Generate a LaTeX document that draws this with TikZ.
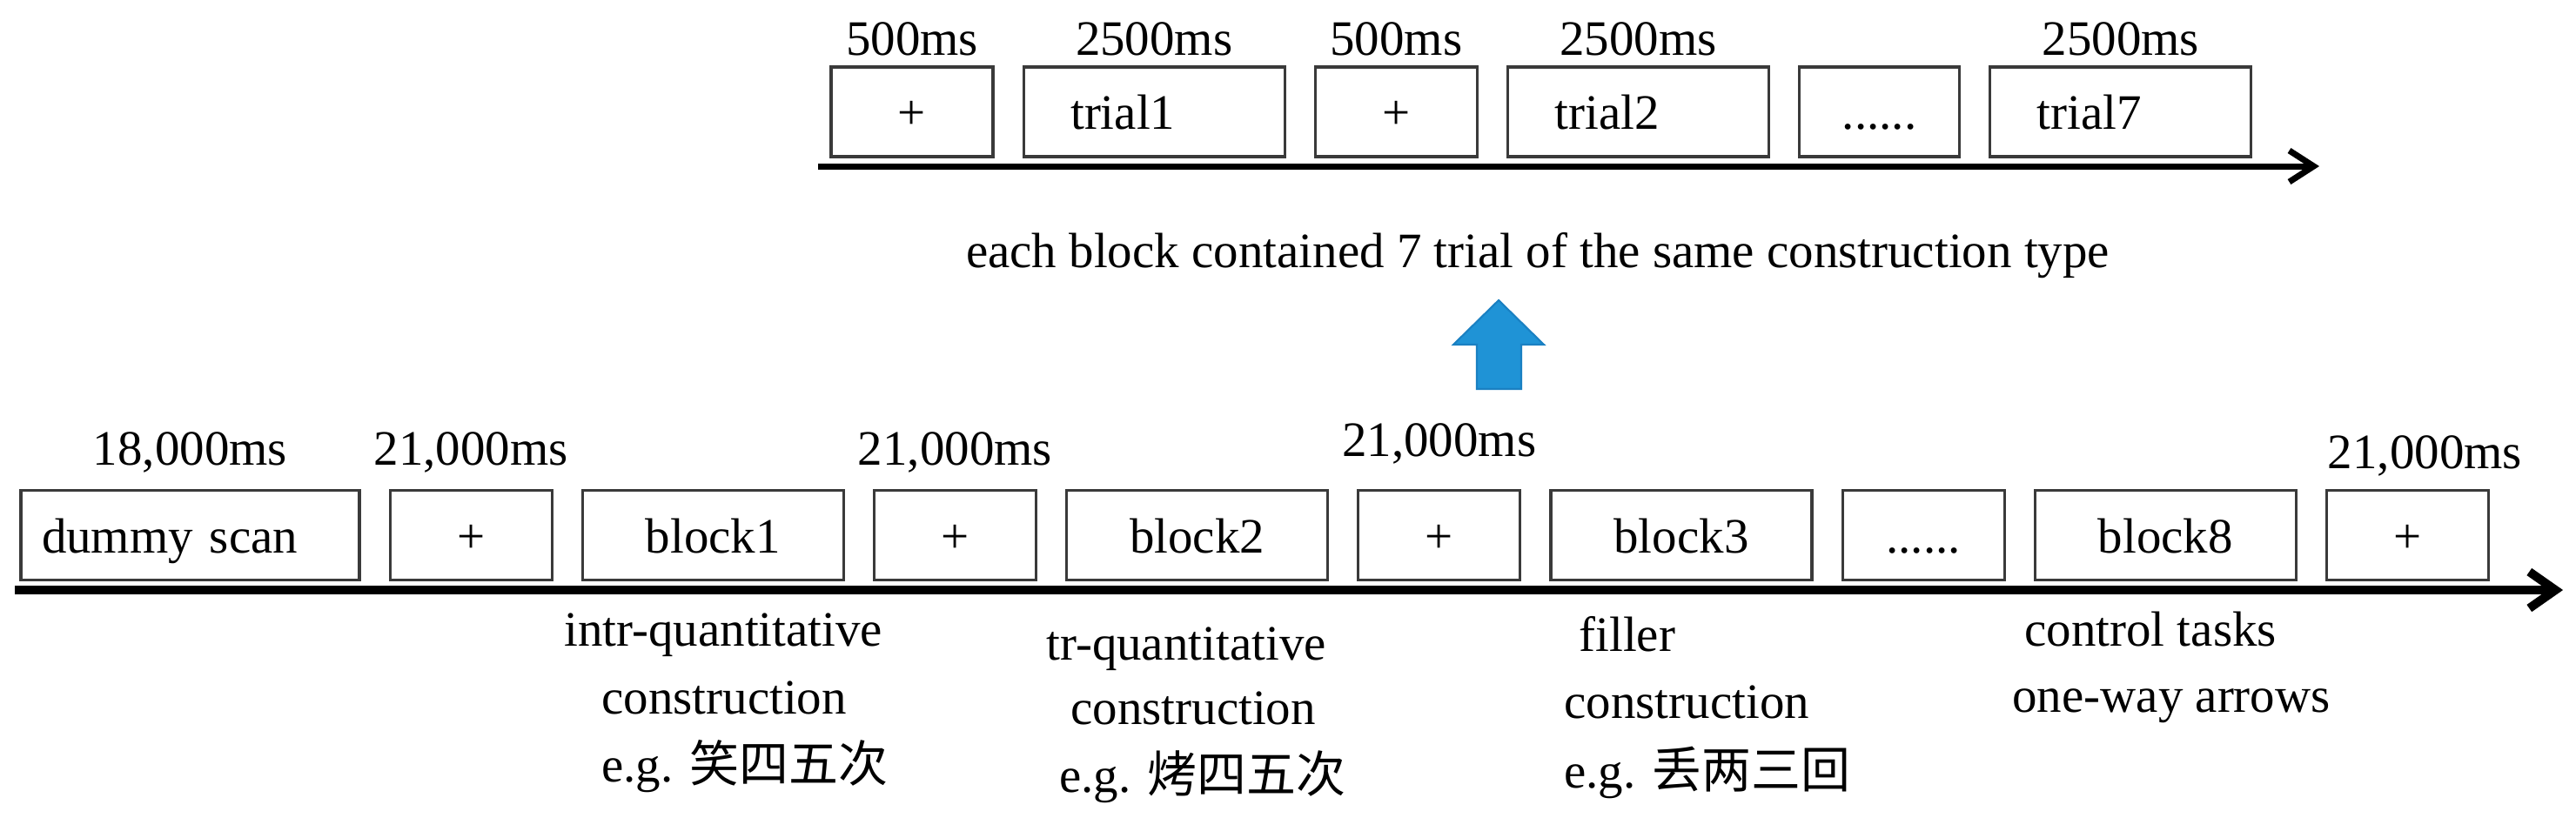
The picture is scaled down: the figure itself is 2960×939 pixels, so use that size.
\documentclass[tikz,border=0pt]{standalone}
\usepackage{fontspec}
\setmainfont{Liberation Serif}
\newfontfamily\cjk{Noto Sans CJK SC}
\usetikzlibrary{positioning,arrows.meta}
\definecolor{BoxEdge}{HTML}{3A3A3A}
\definecolor{ArrowBlue}{HTML}{1F93D6}
\definecolor{ArrowEdge}{HTML}{1A80C2}

\begin{document}
\begin{tikzpicture}[
    x=0.1mm, y=-0.1mm,
    node distance=3.2mm,
    every node/.style={font=\fontsize{16.2pt}{21pt}\selectfont},
    box/.style={draw=BoxEdge, line width=0.9pt, minimum height=10.3mm, inner sep=0pt, text height=4mm, text depth=0pt},
    plusbox/.style={box, minimum width=18.6mm},
    blockbox/.style={box, minimum width=30mm},
    trialbox/.style={box, text width=19.2mm, inner xsep=5.4mm, align=left},
    timeline/.style={line width=2.85pt, -{Straight Barb[length=3mm,width=4.2mm]}},
    subline/.style={line width=2pt, -{Straight Barb[length=2.8mm,width=3.6mm]}}
 ]
\useasboundingbox (0,0) rectangle (2960,939);

% block sequence
\node[box, text width=34.1mm, inner xsep=2.4mm, align=left] (dummy) at (218.5,615) {dummy scan};
\node[plusbox, right=of dummy] (fix1) {+};
\node[blockbox, right=of fix1] (block1) {block1};
\node[plusbox, right=of block1] (fix2) {+};
\node[blockbox, right=of fix2] (block2) {block2};
\node[plusbox, right=of block2] (fix3) {+};
\node[blockbox, right=of fix3] (block3) {block3};
\node[plusbox, right=of block3] (more) {......};
\node[blockbox, right=of more] (block8) {block8};
\node[plusbox, right=of block8] (fix4) {+};

\node[above=2.7mm of dummy, anchor=base] (tDummy) {18,000ms};
\node[above=2.7mm of fix1, anchor=base] (tFix1) {21,000ms};
\node[above=2.7mm of fix2, anchor=base] (tFix2) {21,000ms};
\node[above=3.7mm of fix3, anchor=base] (tFix3) {21,000ms};
\node[above=2.3mm of fix4, anchor=base, xshift=2mm] (tFix4) {21,000ms};

\coordinate (blockL) at (17,678);
\coordinate (blockR) at (2945,678);
\draw[timeline] (blockL) -- (blockR);

% construction types
\node[anchor=base west] (intrA) at (636,742) {intr-quantitative};
\node[anchor=base west] (intrB) at (679,820) {construction};
\node[anchor=base west] (intrC) at (679,898) {e.g. {\cjk 笑四五次}};
\node[anchor=base west] (trA) at (1190,758) {tr-quantitative};
\node[anchor=base west] (trB) at (1218,832) {construction};
\node[anchor=base west] (trC) at (1205,910) {e.g. {\cjk 烤四五次}};
\node[anchor=base west] (fillA) at (1802,748) {filler};
\node[anchor=base west] (fillB) at (1785,825) {construction};
\node[anchor=base west] (fillC) at (1785,905) {e.g. {\cjk 丢两三回}};
\node[anchor=base west] (ctrlA) at (2314,742) {control tasks};
\node[anchor=base west] (ctrlB) at (2300,818) {one-way arrows};

% trial sequence
\node[plusbox] (tfix1) at (1048,128.5) {+};
\node[trialbox, right=of tfix1] (trial1) {trial1};
\node[plusbox, right=of trial1] (tfix2) {+};
\node[trialbox, right=of tfix2] (trial2) {trial2};
\node[plusbox, minimum width=18.4mm, right=of trial2] (tmore) {......};
\node[trialbox, right=of tmore] (trial7) {trial7};

\node[above=1.2mm of tfix1, anchor=base] (tTfix1) {500ms};
\node[above=1.2mm of trial1, anchor=base] (tTrial1) {2500ms};
\node[above=1.2mm of tfix2, anchor=base] (tTfix2) {500ms};
\node[above=1.2mm of trial2, anchor=base] (tTrial2) {2500ms};
\node[above=1.2mm of trial7, anchor=base] (tTrial7) {2500ms};

\coordinate (trialL) at (940,191);
\coordinate (trialR) at (2665,191);
\draw[subline] (trialL) -- (trialR);

\node[anchor=base] (caption) at (1767,307) {each block contained 7 trial of the same construction type};

% zoom arrow
\filldraw[fill=ArrowBlue, draw=ArrowEdge, line width=0.6pt]
    (1697,447) -- (1697,396) -- (1670,396) -- (1722,345) -- (1774,396) -- (1748,396) -- (1748,447) -- cycle;

\end{tikzpicture}
\end{document}
